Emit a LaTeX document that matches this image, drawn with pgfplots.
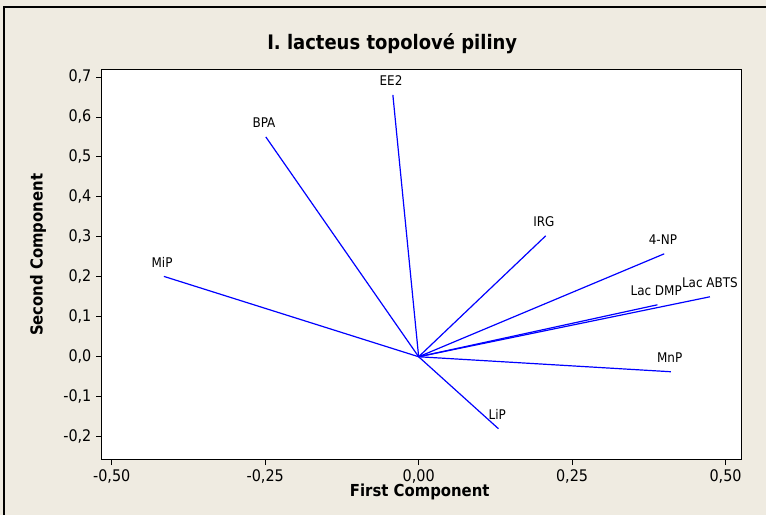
\documentclass[border=0pt]{standalone}
\usepackage{pgfplots}
\pgfplotsset{compat=1.18}
\usepackage{fontspec}
\setmainfont{DejaVu Sans Condensed}
\definecolor{bgc}{RGB}{239,235,225}
\definecolor{vec}{RGB}{0,0,255}
\begin{document}
\begin{tikzpicture}
\fill[bgc] (0,0) rectangle (575.25pt,386.25pt);
\draw[black, line width=0.8pt] (3pt,0) -- (3pt,381pt) -- (575.25pt,381pt);
\begin{axis}[
  at={(76.125pt,41.25pt)}, anchor=south west,
  scale only axis, width=480.4pt, height=292.5pt,
  xmin=-0.5168, xmax=0.526, ymin=-0.2575, ymax=0.7175,
  axis background/.style={fill=white},
  axis line style={black, line width=0.8pt},
  tick align=outside, tick pos=left,
  major tick length=4pt,
  tick style={black, line width=0.6pt},
  xtick={-0.5,-0.25,0,0.25,0.5},
  ytick={-0.2,-0.1,0,0.1,0.2,0.3,0.4,0.5,0.6,0.7},
  xticklabel style={/pgf/number format/.cd, fixed, fixed zerofill, precision=2, use comma, assume math mode=true},
  yticklabel style={/pgf/number format/.cd, fixed, fixed zerofill, precision=1, use comma, assume math mode=true},
  ticklabel style={font=\fontsize{12}{13}\selectfont},
  clip=false,
]
\addplot[vec, line width=0.9pt] coordinates {(0,0) (-0.042,0.655)};
\addplot[vec, line width=0.9pt] coordinates {(0,0) (-0.249,0.550)};
\addplot[vec, line width=0.9pt] coordinates {(0,0) (-0.415,0.201)};
\addplot[vec, line width=0.9pt] coordinates {(0,0) (0.207,0.3025)};
\addplot[vec, line width=0.9pt] coordinates {(0,0) (0.400,0.2575)};
\addplot[vec, line width=0.9pt] coordinates {(0,0) (0.4745,0.150)};
\addplot[vec, line width=0.9pt] coordinates {(0,0) (0.389,0.130)};
\addplot[vec, line width=0.9pt] coordinates {(0,0) (0.411,-0.0375)};
\addplot[vec, line width=0.9pt] coordinates {(0,0) (0.130,-0.180)};
\begin{scope}[every node/.style={anchor=base, inner sep=0pt, yshift=6.75pt, font=\fontsize{10}{11}\selectfont}]
\node at (axis cs:-0.045,0.655) {EE2};
\node at (axis cs:-0.252,0.550) {BPA};
\node at (axis cs:-0.418,0.201) {MiP};
\node at (axis cs:0.204,0.3025) {IRG};
\node at (axis cs:0.398,0.2575) {4-NP};
\node at (axis cs:0.4745,0.150) {Lac ABTS};
\node at (axis cs:0.387,0.130) {Lac DMP};
\node at (axis cs:0.409,-0.0375) {MnP};
\node at (axis cs:0.128,-0.180) {LiP};
\end{scope}
\end{axis}
\node[font=\fontsize{15}{17}\selectfont\bfseries] at (294.4pt,353.25pt) {I. lacteus topolové piliny};
\node[font=\fontsize{12.4}{14}\selectfont\bfseries] at (315pt,17.25pt) {First Component};
\node[font=\fontsize{12.4}{14}\selectfont\bfseries, rotate=90] at (28.5pt,195pt) {Second Component};
\end{tikzpicture}
\end{document}
